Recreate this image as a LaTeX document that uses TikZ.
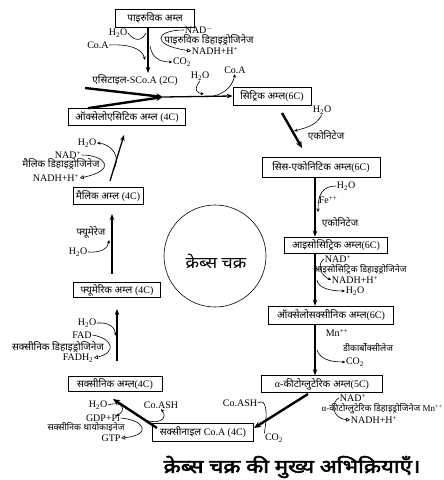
\documentclass[tikz,border=0pt]{standalone}
\usepackage{fontspec}
\setmainfont{Liberation Serif}
\newfontfamily\dev[Script=Devanagari]{Noto Sans}
\newfontfamily\devbold[Script=Devanagari,FakeBold=2.5]{Noto Sans}
\usetikzlibrary{arrows.meta}
\newcommand\Lat[1]{{\rmfamily #1}}
\begin{document}
\begin{tikzpicture}[x=1pt,y=-1pt,
 box/.style={draw, line width=0.6pt, inner xsep=1.5pt, inner ysep=1pt, font=\fontsize{10}{11}\dev},
 dv/.style={inner sep=0.5pt, font=\fontsize{10}{11}\dev},
 dvs/.style={inner sep=0.5pt, font=\fontsize{9}{10}\dev},
 lt/.style={inner sep=0.5pt, font=\fontsize{10}{11}\rmfamily},
 mainarr/.style={line width=1.3pt, -{Stealth[length=6pt,width=4.5pt]}},
 fatarr/.style={line width=2.4pt, -{Stealth[length=7pt,width=6pt]}},
 thinline/.style={line width=0.6pt},
 thinarr/.style={line width=0.6pt, -{Stealth[length=3.5pt,width=3pt]}},
 openarr/.style={line width=0.6pt, -{Triangle[open,length=4pt,width=4pt]}},
]
\useasboundingbox (0,0) rectangle (444,480);

% ---------- top: pyruvic acid ----------
\node[box, minimum width=79pt, minimum height=18pt] (pyr) at (155,18) {पाइरुविक अम्ल};
\node[lt] (nad1) at (199,30) {NAD\textsuperscript{$-$}};
\node[dv] (pdh) at (209,40) {पाइरुविक डिहाइड्रोजिनेज};
\node[lt] (nadh1) at (215,51) {NADH+H\textsuperscript{+}};
\node[lt] (co2a) at (182,62) {CO\textsubscript{2}};
\node[lt] (h2oa) at (118,33) {H\textsubscript{2}O};
\node[lt] (coa1) at (98,45) {Co.A};
\node[dv] (acl) at (135,80) {एसिटाइल-\Lat{SCo.A (2C)}};
\node[lt] (h2ob) at (200,76) {H\textsubscript{2}O};
\node[lt] (coa2) at (235,70) {Co.A};

\coordinate (pb) at (148,73);
\coordinate (c1) at (150,46);
\draw[mainarr] (pyr.south -| pb) -- (pb);
\draw[thinline] (h2oa.east) .. controls (135,42) and (142,41) .. (146,33);
\draw[thinarr] (coa1.east) .. controls (128,44) and (142,48) .. (145,60);
\draw[openarr] (nad1.west) .. controls (155,30) and (150,45) .. (nadh1.west);
\draw[thinarr] (c1) .. controls (152,58) and (160,62) .. (co2a.west);

% ---------- acetyl CoA + oxaloacetate -> citrate ----------
\node[box, minimum width=78pt, minimum height=18pt] (cit) at (272,96) {सिट्रिक अम्ल\Lat{(6C)}};
\node[box, minimum width=117pt, minimum height=17pt] (oxa) at (127,117) {ऑक्सेलोएसिटिक अम्ल \Lat{(4C)}};
\coordinate (t1) at (85,88);
\coordinate (t2) at (88,0);
\coordinate (j) at (163,97);
\coordinate (k) at (207,97);
\draw[fatarr] (t1) -- (j);
\draw[fatarr] (oxa.north -| t2) -- (j);
\draw[mainarr] (j) -- (cit.west);
\draw[thinarr] (h2ob.south) .. controls (193,90) and (197,93) .. (204,94);
\draw[thinarr] (k) .. controls (222,96) and (232,88) .. (coa2.south);

% ---------- citrate -> cis-aconitate ----------
\coordinate (d1) at (282,113);
\coordinate (d2) at (302,148);
\coordinate (d3) at (294,131);
\draw[fatarr] (d1) -- (d2);
\node[lt] (h2oc) at (322,110) {H\textsubscript{2}O};
\draw[thinarr] (h2oc.south) .. controls (316,126) and (305,128) .. (d3);
\node[dv] (acon1) at (326,135) {एकोनिटेज};
\node[box, minimum width=118pt, minimum height=20pt] (cis) at (321,167) {सिस-एकोनिटिक अम्ल\Lat{(6C)}};

% ---------- cis-aconitate -> isocitrate ----------
\coordinate (v1) at (315,0);
\node[box, minimum width=103pt, minimum height=16pt] (iso) at (336,245) {आइसोसिट्रिक अम्ल\Lat{(6C)}};
\draw[mainarr] (cis.south -| v1) -- (iso.north -| v1);
\node[lt] (h2od) at (346,186) {H\textsubscript{2}O};
\node[lt] (fe) at (328,200) {Fe\textsuperscript{++}};
\node[dv] (acon2) at (340,222) {एकोनिटेज};
\coordinate (e1) at (318,212);
\draw[thinarr] (h2od.west) .. controls (322,186) and (318,195) .. (e1);

% ---------- isocitrate -> oxalosuccinate ----------
\node[box, minimum width=125pt, minimum height=18pt] (oxs) at (331,315) {ऑक्सेलोसक्सीनिक अम्ल\Lat{(6C)}};
\draw[mainarr] (iso.south -| v1) -- (oxs.north -| v1);
\node[lt] (nad2) at (338,259) {NAD\textsuperscript{+}};
\node[dvs] (idh) at (360,269) {आइसोसिट्रिक डिहाइड्रोजिनेज};
\node[lt] (nadh2) at (355,280) {NADH+H\textsuperscript{+}};
\node[lt] (h2oe) at (355,291) {H\textsubscript{2}O};
\coordinate (e2) at (317,280);
\draw[thinarr] (nad2.west) .. controls (320,260) and (316,273) .. (nadh2.west);
\draw[thinarr] (e2) .. controls (318,288) and (330,291) .. (h2oe.west);

% ---------- oxalosuccinate -> alpha-ketoglutarate ----------
\node[box, minimum width=121pt, minimum height=17pt] (akg) at (322,384) {\Lat{α-}कीटोग्लुटेरिक अम्ल\Lat{(5C)}};
\draw[mainarr] (oxs.south -| v1) -- (akg.north -| v1);
\node[lt] (mn1) at (337,333) {Mn\textsuperscript{++}};
\node[dvs] (dcx) at (368,348) {डीकार्बोक्सीलेज};
\node[lt] (co2b) at (355,362) {CO\textsubscript{2}};
\coordinate (e3) at (317,350);
\draw[thinarr] (e3) .. controls (320,359) and (330,362) .. (co2b.west);

% ---------- alpha-ketoglutarate -> succinyl CoA ----------
\node[box, minimum width=101pt, minimum height=18pt] (scoa) at (203,432) {सक्सीनाइल \Lat{Co.A (4C)}};
\coordinate (f1) at (308,394);
\coordinate (f2) at (254,428);
\draw[fatarr] (f1) -- (f2);
\node[lt] (coash1) at (240,403) {Co.ASH};
\node[lt] (nad3) at (353,398) {NAD\textsuperscript{+}};
\node[dvs] (kdh) at (382,409) {\Lat{α-}कीटोग्लुटेरिक डिहाइड्रोजिनेज \Lat{Mn\textsuperscript{++}}};
\node[lt] (nadh3) at (374,420) {NADH+H\textsuperscript{+}};
\node[lt] (co2c) at (274,438) {CO\textsubscript{2}};
\draw[thinline] (coash1.east) .. controls (266,398) and (268,410) .. (co2c.north west);
\draw[openarr] (nad3.west) .. controls (332,400) and (330,418) .. (nadh3.west);

% ---------- succinyl CoA -> succinate ----------
\node[box, minimum width=94pt, minimum height=15pt] (succ) at (115,384) {सक्सीनिक अम्ल\Lat{(4C)}};
\coordinate (g1) at (157,428);
\coordinate (g2) at (113,399);
\coordinate (g3) at (145,420);
\coordinate (g4) at (116,416);
\draw[fatarr] (g1) -- (g2);
\node[lt] (coash2) at (161,405) {Co.ASH};
\draw[thinarr] (g3) .. controls (160,425) and (168,418) .. (coash2.south);
\node[lt] (h2of) at (98,405) {H\textsubscript{2}O};
\draw[thinarr] (h2of.east) .. controls (124,400) and (126,411) .. (g4);
\node[lt] (gdp) at (103,418) {GDP+Pi};
\node[dvs] (stk) at (86,427) {सक्सीनिक थायोकाइनेज};
\node[lt] (gtp) at (111,438) {GTP};
\draw[openarr] (gdp.east) .. controls (145,420) and (152,435) .. (gtp.east);

% ---------- succinate -> fumarate ----------
\node[box, minimum width=87pt, minimum height=15pt] (fum) at (117,290) {फ्यूमेरिक अम्ल \Lat{(4C)}};
\coordinate (s1) at (117,361);
\coordinate (s2) at (117,309);
\coordinate (s3) at (116,336);
\draw[mainarr] (s1) -- (s2);
\node[lt] (h2og) at (87,323) {H\textsubscript{2}O};
\node[lt] (fad) at (82,335) {FAD};
\node[dv] (sdh) at (58,347) {सक्सीनिक डिहाइड्रोजिनेज};
\node[lt] (fadh) at (78,358) {FADH\textsubscript{2}};
\draw[thinarr] (h2og.east) .. controls (110,322) and (115,328) .. (s3);
\draw[openarr] (fad.east) .. controls (112,338) and (118,352) .. (fadh.east);

% ---------- fumarate -> malate ----------
\node[box, minimum width=70pt, minimum height=17pt] (mal) at (108,196) {मैलिक अम्ल \Lat{(4C)}};
\coordinate (m1) at (112,274);
\coordinate (m2) at (112,214);
\coordinate (m3) at (109,240);
\draw[mainarr] (m1) -- (m2);
\node[dv] (fumase) at (91,232) {फ्यूमेरेज};
\node[lt] (h2oh) at (78,252) {H\textsubscript{2}O};
\draw[thinarr] (h2oh.east) .. controls (102,253) and (108,248) .. (m3);

% ---------- malate -> oxaloacetate ----------
\coordinate (n1) at (110,181);
\coordinate (n2) at (124,135);
\coordinate (n3) at (113,170);
\draw[mainarr] (n1) -- (n2);
\node[lt] (h2oi) at (87,143) {H\textsubscript{2}O};
\draw[thinarr] (n3) .. controls (122,158) and (112,144) .. (h2oi.east);
\node[lt] (nad4) at (68,155) {NAD\textsuperscript{+}};
\node[dv] (mdh) at (61,164) {मैलिक डिहाइड्रोजिनेज};
\node[lt] (nadh4) at (56,178) {NADH+H\textsuperscript{+}};
\draw[openarr] (nad4.east) .. controls (105,155) and (118,170) .. (nadh4.east);

% ---------- centre circle and caption ----------
\node[draw, circle, line width=0.6pt, minimum size=102pt, inner sep=0pt] (kc) at (215,256) {};
\node[font=\fontsize{16}{18}\dev, inner sep=0.5pt] (kct) at (216,261) {\scalebox{1.1}[1]{क्रेब्स चक्र}};
\node[font=\fontsize{19}{21}\devbold, inner sep=0.5pt] (title) at (292,467) {\scalebox{1.17}[1]{क्रेब्स चक्र की मुख्य अभिक्रियाएँ।}};
\end{tikzpicture}
\end{document}
